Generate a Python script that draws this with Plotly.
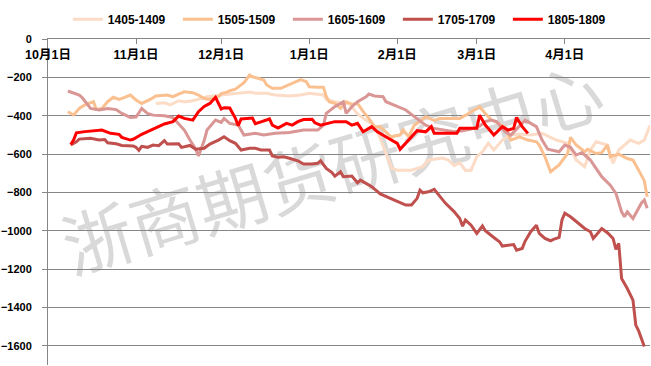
import plotly.graph_objects as go

# ---------------- data (month-day, value) ----------------
series_names = ["1405-1409", "1505-1509", "1605-1609", "1705-1709", "1805-1809"]
series_colors = ["#FCDCC6", "#FAC090", "#D99694", "#C0504D", "#FF0000"]

d1405 = ["11-08", "11-11", "11-13", "11-16", "11-18", "11-20", "11-22", "11-26", "12-01", "12-04",
         "12-07", "12-11", "12-13", "12-17", "12-20", "12-25", "12-29", "01-01", "01-06", "01-07",
         "01-10", "01-13", "01-15", "01-18", "01-21", "01-23", "01-25", "01-27", "01-29", "01-30",
         "02-01", "02-06", "02-08", "02-10", "02-12", "02-15", "02-17", "02-19", "02-21", "02-23",
         "02-25", "02-27", "03-01", "03-03", "03-05", "03-07", "03-10", "03-13", "03-16", "03-20",
         "03-24", "03-29", "04-02", "04-05", "04-08", "04-10", "04-12", "04-16", "04-18", "04-20",
         "04-24", "04-27", "04-29", "05-01"]
v1405 = [-336, -332, -344, -322, -327, -325, -318, -301, -292, -287,
         -283, -276, -283, -283, -292, -297, -292, -283, -292, -315,
         -327, -336, -336, -391, -423, -440, -480, -560, -640, -673,
         -684, -684, -675, -666, -631, -623, -621, -631, -660, -645,
         -685, -684, -614, -588, -544, -579, -527, -501, -495, -500,
         -492, -527, -544, -631, -666, -579, -536, -553, -648, -579,
         -527, -544, -527, -450]

d1505 = ["10-08", "10-10", "10-12", "10-14", "10-17", "10-18", "10-20", "10-22", "10-24", "10-26",
         "10-28", "10-30", "11-01", "11-03", "11-06", "11-08", "11-12", "11-14", "11-16", "11-18",
         "11-21", "11-23", "11-25", "11-27", "11-30", "12-01", "12-03", "12-04", "12-06", "12-08",
         "12-09", "12-11", "12-12", "12-14", "12-16", "12-17", "12-19", "12-22", "12-24", "12-26",
         "12-29", "12-31", "01-01", "01-04", "01-06", "01-07", "01-08", "01-10", "01-12", "01-14",
         "01-16", "01-18", "01-20", "01-22", "01-24", "01-26", "01-28", "01-30", "01-31", "02-02",
         "02-03", "02-05", "02-07", "02-09", "02-11", "02-14", "02-16", "02-21", "02-23", "02-26",
         "02-28", "03-02", "03-04", "03-06", "03-08", "03-11", "03-13", "03-16", "03-19", "03-22",
         "03-23", "03-25", "03-27", "03-30", "04-02", "04-03", "04-05", "04-08", "04-09", "04-12",
         "04-14", "04-16", "04-17", "04-20", "04-23", "04-25", "04-27", "04-29", "04-30"]
v1505 = [-379, -396, -362, -344, -327, -367, -362, -327, -304, -315,
         -304, -292, -318, -336, -315, -297, -292, -301, -287, -275,
         -280, -292, -310, -315, -301, -285, -277, -270, -262, -240,
         -228, -188, -197, -205, -214, -240, -257, -257, -245, -231,
         -212, -223, -249, -252, -252, -300, -327, -336, -362, -327,
         -340, -336, -379, -414, -457, -457, -484, -513, -506, -501,
         -475, -509, -449, -431, -405, -425, -414, -414, -414, -390,
         -370, -353, -388, -420, -435, -461, -527, -510, -527, -536,
         -553, -614, -692, -657, -597, -513, -553, -588, -575, -597,
         -593, -553, -614, -600, -623, -631, -684, -740, -823]

d1605 = ["10-08", "10-12", "10-13", "10-15", "10-16", "10-19", "10-22", "10-25", "10-27", "10-30",
         "11-01", "11-03", "11-05", "11-07", "11-11", "11-14", "11-16", "11-18", "11-20", "11-22",
         "11-23", "11-25", "11-26", "11-27", "11-29", "12-01", "12-02", "12-04", "12-07", "12-09",
         "12-13", "12-16", "12-20", "12-25", "12-30", "01-04", "01-06", "01-07", "01-10", "01-13",
         "01-14", "01-16", "01-18", "01-21", "01-22", "01-24", "01-27", "01-28", "01-31", "02-04",
         "02-07", "02-11", "02-14", "02-18", "02-21", "02-24", "02-27", "03-02", "03-04", "03-06",
         "03-08", "03-11", "03-13", "03-15", "03-18", "03-20", "03-22", "03-24", "03-26", "03-30",
         "04-01", "04-03", "04-05", "04-07", "04-10", "04-12", "04-14", "04-17", "04-19", "04-21",
         "04-22", "04-23", "04-25", "04-28", "04-29", "04-30"]
v1605 = [-271, -292, -305, -344, -362, -370, -362, -368, -388, -409,
         -407, -362, -388, -397, -400, -410, -440, -475, -527, -575,
         -610, -530, -475, -457, -423, -435, -414, -440, -449, -501,
         -492, -501, -492, -488, -475, -475, -449, -388, -353, -327,
         -388, -353, -327, -301, -287, -297, -301, -327, -344, -370,
         -405, -449, -466, -475, -484, -478, -470, -454, -431, -423,
         -431, -484, -501, -470, -423, -440, -457, -527, -575, -588,
         -553, -565, -605, -593, -631, -675, -718, -762, -805, -901,
         -927, -901, -936, -855, -840, -883]

d1705 = ["10-09", "10-11", "10-12", "10-16", "10-19", "10-21", "10-22", "10-25", "10-27", "10-31",
         "11-01", "11-02", "11-03", "11-05", "11-07", "11-09", "11-11", "11-12", "11-16", "11-17",
         "11-20", "11-22", "11-25", "11-27", "11-30", "12-02", "12-04", "12-06", "12-08", "12-11",
         "12-13", "12-15", "12-18", "12-19", "12-21", "12-23", "12-25", "12-28", "12-30", "01-02",
         "01-04", "01-05", "01-07", "01-09", "01-10", "01-12", "01-13", "01-16", "01-18", "01-19",
         "01-21", "01-23", "01-26", "01-28", "01-31", "02-04", "02-06", "02-08", "02-09", "02-10",
         "02-12", "02-14", "02-16", "02-18", "02-21", "02-23", "02-24", "02-25", "02-27", "03-01",
         "03-03", "03-04", "03-07", "03-09", "03-10", "03-12", "03-14", "03-15", "03-17", "03-18",
         "03-20", "03-22", "03-23", "03-25", "03-27", "03-28", "03-30", "03-31", "04-01", "04-03",
         "04-05", "04-06", "04-08", "04-10", "04-11", "04-12", "04-14", "04-16", "04-18", "04-19",
         "04-20", "04-21", "04-23", "04-25", "04-26", "04-27", "04-29"]
v1705 = [-553, -536, -522, -518, -527, -524, -541, -546, -555, -558,
         -565, -581, -560, -565, -553, -556, -530, -548, -546, -565,
         -555, -575, -570, -548, -527, -510, -530, -544, -579, -570,
         -570, -579, -579, -610, -617, -614, -622, -635, -652, -652,
         -648, -635, -675, -697, -715, -692, -718, -715, -750, -736,
         -753, -770, -808, -822, -840, -866, -866, -831, -788, -802,
         -797, -784, -819, -857, -900, -936, -976, -944, -971, -1014,
         -975, -1000, -1035, -1057, -1080, -1075, -1072, -1101, -1092, -1055,
         -1005, -971, -1014, -1040, -1052, -1045, -1035, -944, -908, -927,
         -953, -962, -988, -1005, -1040, -1023, -988, -1010, -1040, -1097,
         -1066, -1249, -1301, -1362, -1492, -1522, -1603]

d1805 = ["10-09", "10-10", "10-11", "10-14", "10-20", "10-23", "10-26", "10-27", "10-30", "10-31",
         "11-03", "11-05", "11-08", "11-11", "11-14", "11-16", "11-18", "11-20", "11-21", "11-23",
         "11-25", "11-27", "11-29", "12-01", "12-02", "12-04", "12-06", "12-07", "12-08", "12-12",
         "12-13", "12-15", "12-18", "12-19", "12-21", "12-24", "12-26", "12-28", "12-30", "01-02",
         "01-03", "01-05", "01-08", "01-10", "01-14", "01-16", "01-18", "01-20", "01-23", "01-25",
         "01-29", "02-01", "02-02", "02-04", "02-06", "02-08", "02-11", "02-13", "02-14", "02-22",
         "02-23", "03-01", "03-02", "03-04", "03-05", "03-07", "03-10", "03-12", "03-14", "03-15",
         "03-17", "03-19"]
v1805 = [-550, -527, -489, -483, -475, -492, -497, -513, -527, -523,
         -497, -483, -461, -443, -431, -402, -414, -419, -423, -379,
         -352, -336, -304, -365, -358, -360, -414, -452, -417, -412,
         -442, -432, -417, -449, -464, -440, -449, -431, -420, -419,
         -437, -449, -440, -431, -431, -449, -440, -484, -457, -484,
         -519, -544, -575, -544, -510, -478, -484, -457, -492, -492,
         -466, -466, -397, -449, -466, -501, -457, -475, -466, -409,
         -457, -492]

month_ticks = ["10-01", "11-01", "12-01", "01-01", "02-01", "03-01", "04-01", "05-01"]
month_labels = ["10月1日", "11月1日", "12月1日", "1月1日", "2月1日", "3月1日", "4月1日", ""]
y_ticks = [0, -200, -400, -600, -800, -1000, -1200, -1400, -1600]
watermark = "浙商期货研究中心"


def to_date(md):
    m = int(md[:2])
    return ("2016-" if m >= 10 else "2017-") + md


all_dates = [d1405, d1505, d1605, d1705, d1805]
all_vals = [v1405, v1505, v1605, v1705, v1805]

fig = go.Figure()
for name, color, ds, vs in zip(series_names, series_colors, all_dates, all_vals):
    fig.add_trace(go.Scatter(
        x=[to_date(d) for d in ds], y=vs, name=name, mode="lines",
        line=dict(color=color, width=3), hoverinfo="skip"))

y_font = dict(family="Liberation Sans, Arial, Noto Sans CJK SC", size=11,
              color="#000000", weight="bold")
x_font = dict(family="Liberation Sans, Arial, Noto Sans CJK SC", size=12.5,
              color="#000000", weight="bold")
grid_col = "#868686"

fig.add_shape(type="rect", xref="paper", yref="paper",
              x0=0.404, x1=0.548, y0=0.518, y1=0.644,
              line=dict(width=0), fillcolor="rgba(0,0,0,0)", layer="below",
              label=dict(text=watermark, textangle=-16.7, textposition="middle center",
                         font=dict(family="Noto Sans CJK SC", size=70, color="#D9D9D9")))

fig.update_layout(
    width=651, height=366,
    margin=dict(l=48, r=1, t=39, b=1, autoexpand=False),
    paper_bgcolor="white", plot_bgcolor="white",
    legend=dict(orientation="h", x=0.033, y=1.105, xanchor="left", yanchor="top",
                font=dict(family="Liberation Sans, Arial", size=12, color="#000000", weight="bold"),
                entrywidth=65, entrywidthmode="pixels", bgcolor="rgba(0,0,0,0)",
                itemwidth=30, traceorder="normal"),
    xaxis=dict(type="date", range=[to_date("10-01"), to_date("05-01")], side="top",
               tickmode="array", tickvals=[to_date(t) for t in month_ticks], ticktext=month_labels,
               ticks="inside", ticklen=5, tickcolor=grid_col, showline=True, linecolor=grid_col,
               linewidth=1, showgrid=False, zeroline=False,
               ticklabelposition="inside", ticklabeloverflow="allow", ticklabelstandoff=6,
               tickfont=x_font),
    yaxis=dict(range=[-1700, 0], tickmode="array", tickvals=y_ticks,
               showgrid=True, gridcolor=grid_col, gridwidth=1, zeroline=False,
               showline=True, linecolor=grid_col, linewidth=1,
               ticks="outside", ticklen=5, tickcolor=grid_col, ticklabelstandoff=8,
               tickfont=y_font),
)

# remove the default page margin so the 651x366 figure fills the window exactly
fig.write_html("out.html", config={"displayModeBar": False},
               post_script="document.body.style.margin='0';document.body.style.overflow='hidden';")
